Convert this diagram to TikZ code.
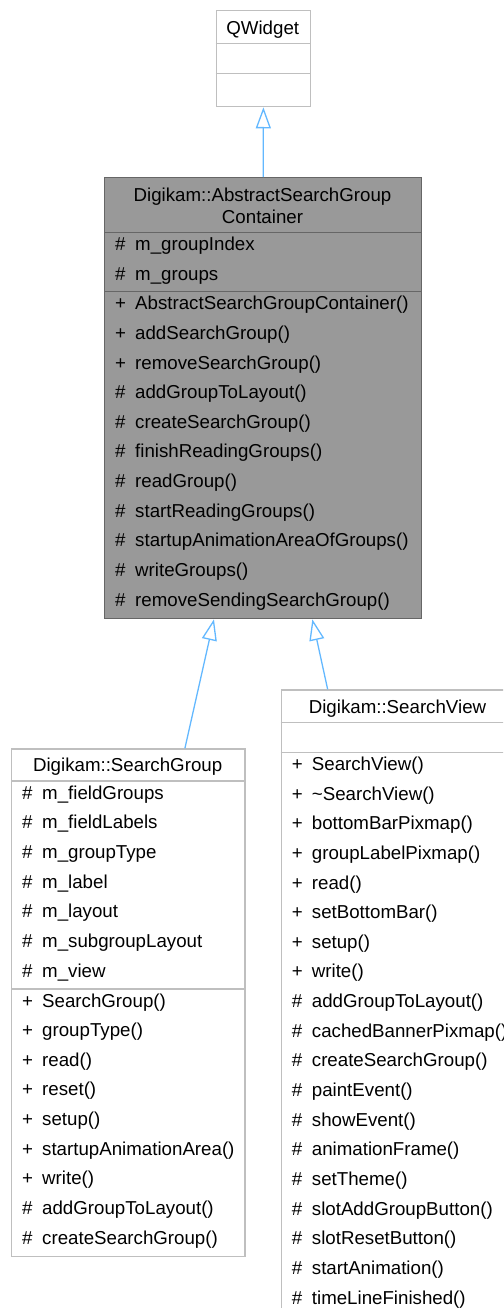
\documentclass[tikz,border=0pt]{standalone}
\usepackage{fontspec}
\setmainfont{Liberation Sans}
\usetikzlibrary{arrows.meta,calc}
\definecolor{lightborder}{HTML}{BFBFBF}
\definecolor{darkborder}{HTML}{666666}
\definecolor{darkfill}{HTML}{999999}
\definecolor{inhblue}{HTML}{63B8FF}
\newcommand\classrows[4]{%
  \foreach \sy/\tx [count=\i] in {#4} {
    \node[rowtext] (#1s\i) at (#2+11, #3+29.65*\i-11.55) {\sy};
    \node[rowtext] (#1t\i) at (#2+31, #3+29.65*\i-11.55) {\tx};
  }}
\begin{document}
\begin{tikzpicture}[x=1pt,y=-1pt,
  lightbox/.style={draw=lightborder,line width=1.3pt,fill=white,rectangle,inner sep=0pt,anchor=north west},
  darkbox/.style={draw=darkborder,line width=1.3pt,fill=darkfill,rectangle,inner sep=0pt,anchor=north west},
  lightdiv/.style={draw=lightborder,line width=1.3pt},
  darkdiv/.style={draw=darkborder,line width=1.3pt},
  rowtext/.style={anchor=base west,inner sep=0pt,font=\fontsize{18.7}{22}\selectfont},
  titletext/.style={anchor=base,inner sep=0pt,font=\fontsize{18.7}{22}\selectfont},
  inh/.style={draw=inhblue,line width=1.3pt,-{Triangle[open,length=21pt,width=15pt]}}
]
\path[use as bounding box] (0,0) rectangle (503,1308);
\clip (0,0) rectangle (503,1308);

% QWidget
\node[lightbox,minimum width=94.5pt,minimum height=96pt] (qw) at (215.5,10) {};
\draw[lightdiv] (qw.west |- 0,43.7) -- (qw.east |- 0,43.7);
\draw[lightdiv] (qw.west |- 0,73.7) -- (qw.east |- 0,73.7);
\node[titletext] (qwT) at (262.75,34.4) {QWidget};

% AbstractSearchGroupContainer
\node[darkbox,minimum width=317pt,minimum height=441pt] (abs) at (104,177) {};
\draw[darkdiv] (abs.west |- 0,232.3) -- (abs.east |- 0,232.3);
\draw[darkdiv] (abs.west |- 0,291.6) -- (abs.east |- 0,291.6);
\node[titletext] (absT1) at (262.5,201.5) {Digikam::AbstractSearchGroup};
\node[titletext] (absT2) at (262.5,223) {Container};
\classrows{absa}{104}{232.3}{\#/m\_groupIndex,\#/m\_groups}
\classrows{absm}{104}{291.6}{+/AbstractSearchGroupContainer(),+/addSearchGroup(),+/removeSearchGroup(),\#/addGroupToLayout(),\#/createSearchGroup(),\#/finishReadingGroups(),\#/readGroup(),\#/startReadingGroups(),\#/startupAnimationAreaOfGroups(),\#/writeGroups(),\#/removeSendingSearchGroup()}

% SearchGroup
\node[lightbox,minimum width=233.3pt,minimum height=507.4pt] (sg) at (11,748.3) {};
\draw[lightdiv] (sg.west |- 0,781) -- (sg.east |- 0,781);
\draw[lightdiv] (sg.west |- 0,988.9) -- (sg.east |- 0,988.9);
\node[titletext] (sgT) at (127.65,771.7) {Digikam::SearchGroup};
\classrows{sga}{11}{781}{\#/m\_fieldGroups,\#/m\_fieldLabels,\#/m\_groupType,\#/m\_label,\#/m\_layout,\#/m\_subgroupLayout,\#/m\_view}
\classrows{sgm}{11}{988.9}{+/SearchGroup(),+/groupType(),+/read(),+/reset(),+/setup(),+/startupAnimationArea(),+/write(),\#/addGroupToLayout(),\#/createSearchGroup()}

% SearchView
\node[lightbox,minimum width=233.6pt,minimum height=626.4pt] (sv) at (280.7,689.3) {};
\draw[lightdiv] (sv.west |- 0,722.7) -- (sv.east |- 0,722.7);
\draw[lightdiv] (sv.west |- 0,752.3) -- (sv.east |- 0,752.3);
\node[titletext] (svT) at (397.5,713.4) {Digikam::SearchView};
\classrows{svm}{280.7}{752.3}{+/SearchView(),+/\textasciitilde SearchView(),+/bottomBarPixmap(),+/groupLabelPixmap(),+/read(),+/setBottomBar(),+/setup(),+/write(),\#/addGroupToLayout(),\#/cachedBannerPixmap(),\#/createSearchGroup(),\#/paintEvent(),\#/showEvent(),\#/animationFrame(),\#/setTheme(),\#/slotAddGroupButton(),\#/slotResetButton(),\#/startAnimation(),\#/timeLineFinished()}

% inheritance
\draw[inh] (abs.north) -- (qw.south);
\draw[inh] ([xshift=56.6pt]sg.north) -- ([xshift=-49.2pt]abs.south);
\draw[inh] ([xshift=-70.5pt]sv.north) -- ([xshift=49.2pt]abs.south);
\end{tikzpicture}
\end{document}
